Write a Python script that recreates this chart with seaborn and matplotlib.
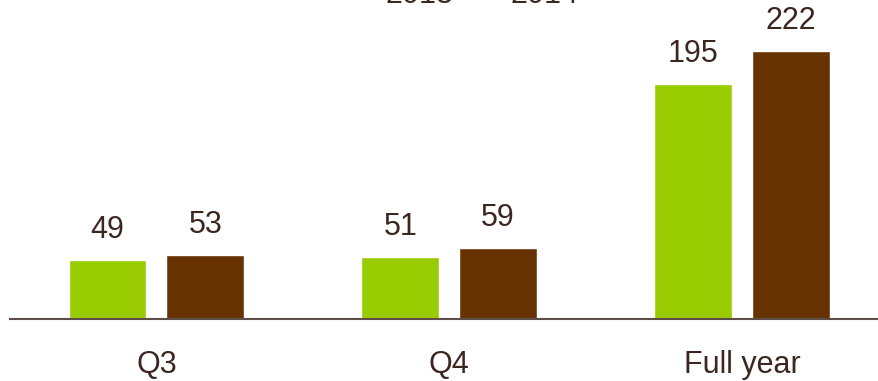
import matplotlib
matplotlib.use("Agg")
import matplotlib.pyplot as plt
import seaborn as sns
import pandas as pd

periods = ["Q3", "Q4", "Full year"]
years = ["2013", "2014"]
values_2013 = [49, 51, 195]
values_2014 = [53, 59, 222]

green = "#99cc00"
brown = "#663300"
text_color = "#3b2620"
axis_color = "#5c4d48"

df = pd.DataFrame({
    "period": periods * 2,
    "year": [years[0]] * 3 + [years[1]] * 3,
    "value": values_2013 + values_2014,
})

sns.set_theme(style="white")
plt.rcParams["font.family"] = ["Liberation Sans", "DejaVu Sans"]

W, H = 879, 381
fig = plt.figure(figsize=(W / 100, H / 100), dpi=100)
ax = fig.add_axes([10 / W, 62 / H, 1 - 10 / W, 319 / H])

sns.barplot(data=df, x="period", y="value", hue="year", order=periods,
            hue_order=years, palette=[green, brown], width=0.668, gap=0.204,
            saturation=1, legend=False, ax=ax)

for container in ax.containers:
    ax.bar_label(container, fmt="%d", padding=11, fontsize=22, color=text_color)

ax.set_xlim(-0.5, 2.468)
ax.set_ylim(0, 264.5)
ax.set_xlabel("")
ax.set_ylabel("")
ax.set_yticks([])
for side in ["left", "right", "top"]:
    ax.spines[side].set_visible(False)
ax.spines["bottom"].set_color(axis_color)
ax.spines["bottom"].set_linewidth(1.5)
ax.tick_params(axis="x", length=0, pad=22, labelsize=22, labelcolor=text_color)

# Legend labels sitting along the top edge
fig.text(420 / W, 378 / H, years[0], ha="center", va="baseline",
         fontsize=22, color=text_color)
fig.text(545 / W, 378 / H, years[1], ha="center", va="baseline",
         fontsize=22, color=text_color)

fig.savefig("out.png", dpi=100)
